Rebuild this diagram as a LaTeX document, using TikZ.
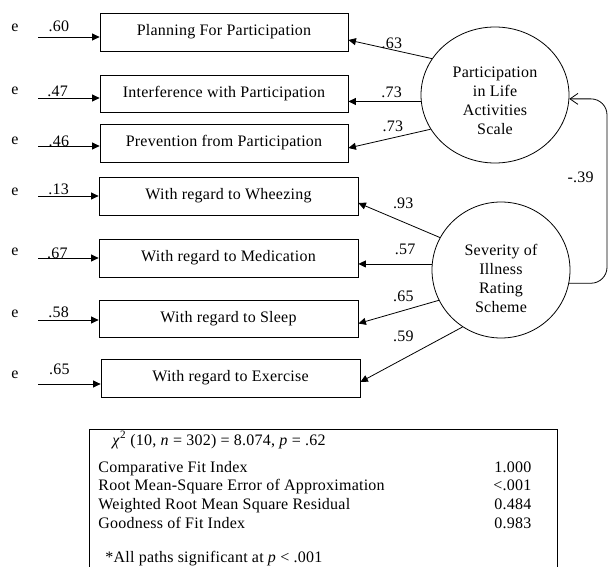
\documentclass[tikz,border=0pt]{standalone}
\usepackage{fontspec}
\setmainfont[LetterSpace=1.5]{Liberation Serif}
\usetikzlibrary{shapes.geometric,arrows.meta,calc}

\begin{document}
\begin{tikzpicture}[x=1pt, y=-1pt, line width=0.8pt, font=\fontsize{16}{19}\selectfont,
  >={Triangle[length=7.5pt,width=7pt]},
  itembox/.style={draw, minimum height=38pt, inner sep=0pt},
  latent/.style={draw, ellipse, inner sep=0pt},
  coef/.style={inner sep=1pt},
  err/.style={inner sep=0pt}]

\useasboundingbox (0,0) rectangle (608,567);

% observed indicators
\node[itembox, minimum width=248pt] at (224, 32) (plan) {Planning For Participation};
\node[itembox, minimum width=248pt, minimum height=37pt] at (224, 93.5) (inter) {Interference with Participation};
\node[itembox, minimum width=248pt] at (224, 143) (prev) {Prevention from Participation};
\node[itembox, minimum width=259pt] at (228.5, 196) (whz) {With regard to Wheezing};
\node[itembox, minimum width=259pt] at (228.5, 258) (med) {With regard to Medication};
\node[itembox, minimum width=259pt, minimum height=37pt] at (228.5, 318.5) (slp) {With regard to Sleep};
\node[itembox, minimum width=259pt] at (230.5, 378) (exe) {With regard to Exercise};

% latent factors
\node[latent, minimum width=148pt, minimum height=136pt,
  label={[align=center, yshift=-6pt]center:Participation\\in Life\\Activities\\Scale}] at (495, 95) (pla) {};
\node[latent, minimum width=138pt, minimum height=136pt,
  label={[align=center, yshift=-8pt]center:Severity of\\Illness\\Rating\\Scheme}] at (501, 270) (sev) {};

% error terms
\node[err] at (15, 28) (e1) {e};
\node[err] at (15, 91) (e2) {e};
\node[err] at (15, 141) (e3) {e};
\node[err] at (15, 192) (e4) {e};
\node[err] at (15, 252) (e5) {e};
\node[err] at (15, 314) (e6) {e};
\node[err] at (15, 375) (e7) {e};
\coordinate (s1) at (38, 37);
\coordinate (s2) at (38, 98);
\coordinate (s3) at (38, 146);
\coordinate (s4) at (38, 196);
\coordinate (s5) at (38, 258);
\coordinate (s6) at (38, 320);
\coordinate (s7) at (38, 384);
    \draw [->] (s1) -- (s1 -| plan.west) node[coef, pos=0.34, above=3.5pt] {.60};
    \draw [->] (s2) -- (s2 -| inter.west) node[coef, pos=0.32, above=0pt] {.47};
    \draw [->] (s3) -- (s3 -| prev.west) node[coef, pos=0.34, above=-2pt] {.46};
    \draw [->] (s4) -- (s4 -| whz.west) node[coef, pos=0.34, above=0pt] {.13};
    \draw [->] (s5) -- (s5 -| med.west) node[coef, pos=0.32, above=-2pt] {.67};
    \draw [->] (s6) -- (s6 -| slp.west) node[coef, pos=0.34, above=1.3pt] {.58};
    \draw [->] (s7) -- (s7 -| exe.west) node[coef, pos=0.34, above=8pt] {.65};

% loadings
    \draw [->] (pla.150) -- ($(plan.east)+(0,8)$) node[coef, pos=0.48, above] {.63};
    \draw [->] (pla.185) -- (pla.185 -| inter.east) node[coef, pos=0.405, above=2.5pt] {.73};
    \draw [->] (pla.208) -- ($(prev.east)+(0,5)$) node[coef, pos=0.46, above=4.4pt] {.73};
    \draw [->] (sev.152) -- ($(whz.east)+(0,7)$) node[coef, pos=0.45, above=12pt] {.93};
    \draw [->] (sev.175) -- (sev.175 -| med.east) node[coef, pos=0.365, above=7.5pt] {.57};
    \draw [->] (sev.206) -- ($(slp.east)+(0,5)$) node[coef, pos=0.44, above=7pt] {.65};
    \draw [->] (sev.236) -- ($(exe.east)+(0,4)$) node[coef, pos=0.58, above=15.5pt] {.59};

% factor correlation
\coordinate (rt) at (607, 177);
    \draw [-{Straight Barb[length=8pt,width=11pt]}, rounded corners=16pt] (sev.-11) -| (rt) node[coef, left=12pt] {-.39} |- (pla.-3);

% fit statistics
\draw (89, 570) -- (89, 429) -- (557, 429) -- (557, 570);
\node[anchor=base west, inner sep=0pt] at (112, 445) (chisq) {\textit{χ}\textsuperscript{2} (10, \textit{n} = 302) = 8.074, \textit{p} = .62};
\node[anchor=base west, inner sep=0pt, font=\fontsize{16}{18.7}\selectfont] at (98, 472) (fitidx) {%
  \begin{tabular*}{433pt}[t]{@{}l@{\extracolsep{\fill}}r@{}}
  Comparative Fit Index & 1.000\\
  Root Mean-Square Error of Approximation & <.001\\
  Weighted Root Mean Square Residual & 0.484\\
  Goodness of Fit Index & 0.983
  \end{tabular*}};
\node[anchor=base west, inner sep=0pt] at (105, 562) (note) {*All paths significant at \textit{p} < .001};
\end{tikzpicture}
\end{document}
